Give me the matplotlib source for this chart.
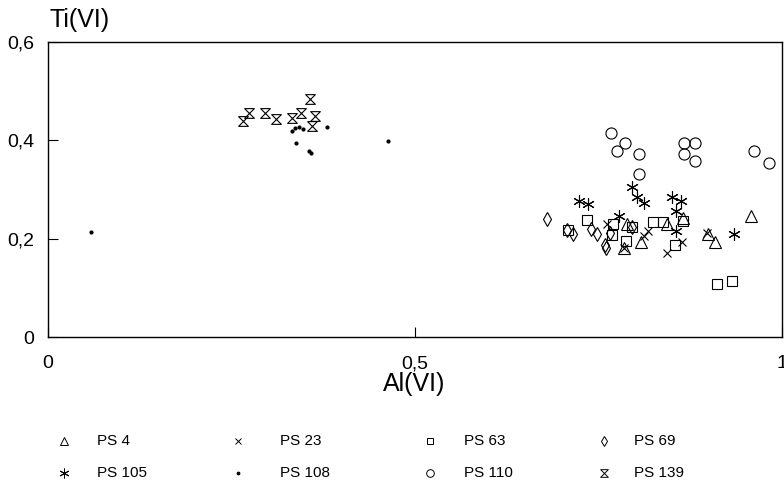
import matplotlib
matplotlib.use("Agg")
import matplotlib.pyplot as plt
from matplotlib.lines import Line2D
from matplotlib.path import Path
from matplotlib.ticker import FuncFormatter

plt.rcParams['font.family'] = ['Liberation Sans', 'DejaVu Sans']

# Al(VI), Ti(VI) per sample
ps4_x = [0.789, 0.808, 0.843, 0.865, 0.899, 0.909, 0.958, 0.785]
ps4_y = [0.230, 0.193, 0.230, 0.242, 0.209, 0.193, 0.246, 0.181]

ps23_x = [0.762, 0.785, 0.812, 0.817, 0.843, 0.864, 0.898]
ps23_y = [0.230, 0.181, 0.205, 0.216, 0.171, 0.193, 0.212]

ps63_x = [0.734, 0.708, 0.770, 0.787, 0.824, 0.838, 0.865, 0.854, 0.911, 0.932, 0.768, 0.796]
ps63_y = [0.238, 0.218, 0.230, 0.195, 0.234, 0.234, 0.236, 0.187, 0.108, 0.114, 0.207, 0.224]

ps69_x = [0.680, 0.707, 0.715, 0.740, 0.748, 0.759, 0.760, 0.766, 0.796]
ps69_y = [0.240, 0.218, 0.209, 0.220, 0.209, 0.187, 0.181, 0.211, 0.224]

ps105_x = [0.723, 0.736, 0.778, 0.796, 0.803, 0.812, 0.850, 0.862, 0.856, 0.856, 0.935]
ps105_y = [0.277, 0.270, 0.246, 0.305, 0.285, 0.273, 0.285, 0.277, 0.256, 0.216, 0.209]

ps108_x = [0.332, 0.337, 0.342, 0.347, 0.338, 0.356, 0.358, 0.380, 0.463, 0.059]
ps108_y = [0.419, 0.425, 0.427, 0.423, 0.395, 0.378, 0.374, 0.427, 0.399, 0.213]

ps110_x = [0.767, 0.786, 0.775, 0.805, 0.805, 0.866, 0.881, 0.866, 0.881, 0.962, 0.982]
ps110_y = [0.415, 0.395, 0.378, 0.372, 0.331, 0.395, 0.395, 0.372, 0.358, 0.378, 0.354]

ps139_x = [0.266, 0.274, 0.296, 0.311, 0.332, 0.345, 0.357, 0.364, 0.360]
ps139_y = [0.439, 0.456, 0.456, 0.443, 0.445, 0.456, 0.484, 0.449, 0.429]

labels = ["PS 4", "PS 23", "PS 63", "PS 69", "PS 105", "PS 108", "PS 110", "PS 139"]
xs = [ps4_x, ps23_x, ps63_x, ps69_x, ps105_x, ps108_x, ps110_x, ps139_x]
ys = [ps4_y, ps23_y, ps63_y, ps69_y, ps105_y, ps108_y, ps110_y, ps139_y]

# hourglass marker
hourglass = Path([(-1, 1), (1, 1), (-1, -1), (1, -1), (-1, 1)],
                 [Path.MOVETO, Path.LINETO, Path.LINETO, Path.LINETO, Path.CLOSEPOLY])

# marker, size, legend size
styles = [
    ('^', 8, 6),
    ('x', 6, 5),
    ('s', 7, 5),
    ('d', 7, 5.5),
    ((6, 2, 0), 9, 7),
    ('o', 2.2, 2),
    ('o', 8, 5.5),
    (hourglass, 7, 5.5),
]

fig = plt.figure(figsize=(7.84, 4.9), dpi=100)
ax = fig.add_axes([48 / 784, 1 - 337 / 490, 734 / 784, 295 / 490])

for x, y, (m, ms, _) in zip(xs, ys, styles):
    filled = (ms < 3)
    ax.plot(x, y, linestyle='none', marker=m, markersize=ms,
            markerfacecolor='black' if filled else 'none',
            markeredgecolor='black', markeredgewidth=0.8)

ax.set_xlim(0, 1)
ax.set_ylim(0, 0.6)
ax.set_xticks([0, 0.5, 1])
ax.set_yticks([0, 0.2, 0.4, 0.6])
fmt = FuncFormatter(lambda v, p: ('%g' % v).replace('.', ','))
ax.xaxis.set_major_formatter(fmt)
ax.yaxis.set_major_formatter(fmt)
ax.tick_params(direction='in', length=7, width=0.8, labelsize=14)
ax.tick_params(axis='x', pad=13)
ax.tick_params(axis='y', pad=10)
for s in ax.spines.values():
    s.set_linewidth(1.0)

fig.text(414 / 784, 1 - 384 / 490, "Al(VI)", fontsize=18, va='center', ha='center')
fig.text(50 / 784, 1 - 20 / 490, "Ti(VI)", fontsize=18, va='center', ha='left')

# legend, two rows of four
marker_x = [64, 238, 430, 604]
text_x = [97, 280, 464, 634]
row_y = [441, 473]
for i, (lab, (m, _, lms)) in enumerate(zip(labels, styles)):
    r, c = divmod(i, 4)
    filled = (lms < 3)
    fig.add_artist(Line2D([marker_x[c] / 784], [1 - row_y[r] / 490], transform=fig.transFigure,
                          linestyle='none', marker=m, markersize=lms,
                          markerfacecolor='black' if filled else 'none',
                          markeredgecolor='black', markeredgewidth=0.7))
    fig.text(text_x[c] / 784, 1 - row_y[r] / 490, lab, fontsize=11, va='center', ha='left')

fig.savefig("out.png", dpi=100)
